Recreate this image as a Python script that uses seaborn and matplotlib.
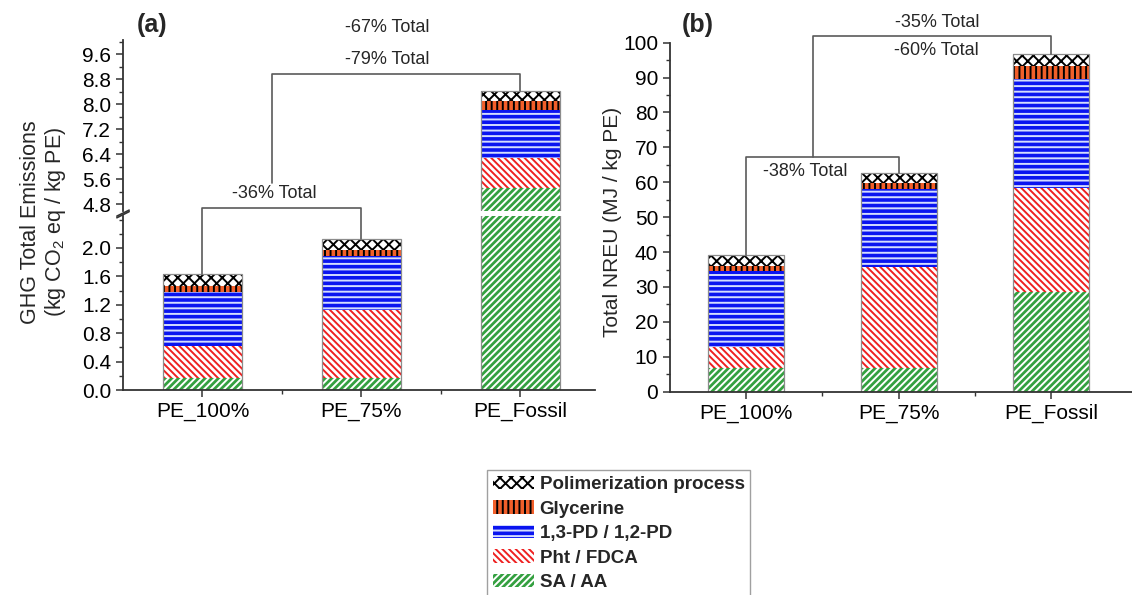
import numpy as np
import matplotlib.pyplot as plt
import matplotlib.patches as mpatches
from matplotlib.ticker import MultipleLocator, FormatStrFormatter
import seaborn as sns

sns.set_style("ticks")
plt.rcParams["font.family"] = ["Liberation Sans", "DejaVu Sans"]
plt.rcParams["mathtext.fontset"] = "custom"
plt.rcParams["mathtext.rm"] = "Liberation Sans"
plt.rcParams["hatch.linewidth"] = 1.4

scenarios = ["PE_100%", "PE_75%", "PE_Fossil"]
layer_names = ["SA / AA", "Pht / FDCA", "1,3-PD / 1,2-PD", "Glycerine", "Polimerization process"]

# (a) GHG emissions per layer, kg CO2 eq / kg PE
ghg_sa = [0.17, 0.17, 5.33]
ghg_pht = [0.45, 0.95, 0.96]
ghg_pd = [0.755, 0.76, 1.52]
ghg_gly = [0.095, 0.09, 0.29]
ghg_pol = [0.17, 0.15, 0.31]

# (b) non-renewable energy use per layer, MJ / kg PE
nreu_sa = [6.7, 6.7, 28.7]
nreu_pht = [6.0, 29.1, 29.8]
nreu_pd = [22.0, 22.4, 31.1]
nreu_gly = [1.3, 1.5, 3.8]
nreu_pol = [3.2, 2.9, 3.4]

# face colour, hatch colour, hatch
styles = [
    ("#34a040", "white", "/////"),
    ("white", "#ee2020", "\\\\\\\\\\"),
    ("#0a14f0", "#d4dcff", "---"),
    ("#f25f2a", "black", "|||"),
    ("white", "black", "xxx"),
]

W, H = 1132, 595
fig = plt.figure(figsize=(W / 100, H / 100), dpi=100)


def frame(left, top, right, bottom):
    return [left / W, 1 - bottom / H, (right - left) / W, (bottom - top) / H]


ax_up = fig.add_axes(frame(123, 40, 595, 211))
ax_lo = fig.add_axes(frame(123, 216, 595, 390))
ax_b = fig.add_axes(frame(670, 42.7, 1132, 391.7))


def draw_stack(ax, layers):
    tops = np.cumsum(np.array(layers), axis=0)
    # draw tallest first so the lower segments sit on top of it
    for i in reversed(range(len(layers))):
        fc, hc, hatch = styles[i]
        sns.barplot(x=scenarios, y=tops[i], ax=ax, width=0.5, saturation=1, color=fc)
        for bar in ax.containers[-1]:
            bar.set_facecolor(fc)
            bar.set_edgecolor(hc)
            bar.set_hatch(hatch)
            bar.set_linewidth(0)
    sns.barplot(x=scenarios, y=tops[-1], ax=ax, width=0.5, fill=False, color="#8c8c8c", linewidth=0.9)
    return tops[-1]


def style_axis(ax):
    ax.spines[["top", "right"]].set_visible(False)
    for s in ["left", "bottom"]:
        ax.spines[s].set_linewidth(1.3)
        ax.spines[s].set_color("#333333")
    ax.tick_params(which="major", direction="out", length=5, width=1.1, labelsize=15, colors="#333333")
    ax.tick_params(which="minor", direction="out", length=3, width=1.0, colors="#333333")
    ax.tick_params(labelcolor="black")
    ax.set_xlabel("")
    ax.set_ylabel("")


def bracket(ax, x0, y0, ytop, x1, y1):
    ax.plot([x0, x0, x1, x1], [y0, ytop, ytop, y1], color="#5a5a5a", lw=1.2, clip_on=False)


ghg = [ghg_sa, ghg_pht, ghg_pd, ghg_gly, ghg_pol]
nreu = [nreu_sa, nreu_pht, nreu_pd, nreu_gly, nreu_pol]

tot_up = draw_stack(ax_up, ghg)
tot_a = draw_stack(ax_lo, ghg)
tot_b = draw_stack(ax_b, nreu)

# panel (a): broken axis
for ax in (ax_up, ax_lo):
    style_axis(ax)
    ax.set_xlim(-0.5, 2.47)
    ax.yaxis.set_major_formatter(FormatStrFormatter("%.1f"))

ax_up.set_ylim(4.59, 10.05)
ax_up.set_yticks(np.arange(4.8, 9.7, 0.8))
ax_up.yaxis.set_minor_locator(MultipleLocator(0.4))
ax_up.spines["bottom"].set_visible(False)
ax_up.tick_params(axis="x", which="both", bottom=False, labelbottom=False)

ax_lo.set_ylim(0, 2.45)
ax_lo.set_yticks(np.arange(0, 2.01, 0.4))
ax_lo.yaxis.set_minor_locator(MultipleLocator(0.2))
ax_lo.set_xticks([0.5, 1.5], minor=True)

kw = dict(color="#333333", lw=1.2, clip_on=False)
ax_up.plot([-0.013, 0.013], [-0.03, 0.005], transform=ax_up.transAxes, **kw)
ax_lo.plot([-0.013, 0.013], [0.99, 1.025], transform=ax_lo.transAxes, **kw)

bracket(ax_lo, 0, tot_a[0], 2.56, 1, tot_a[1])
ax_lo.text(0.45, 2.76, "-36% Total", ha="center", va="center", fontsize=13, clip_on=False)
bracket(ax_up, 0.44, 5.48, 8.96, 2, tot_up[2])
ax_up.text(1.16, 9.44, "-79% Total", ha="center", va="center", fontsize=13)
ax_up.text(1.16, 10.46, "-67% Total", ha="center", va="center", fontsize=13, clip_on=False)

# panel (b)
style_axis(ax_b)
ax_b.set_xlim(-0.5, 2.53)
ax_b.set_ylim(0, 100)
ax_b.yaxis.set_major_locator(MultipleLocator(10))
ax_b.yaxis.set_minor_locator(MultipleLocator(5))
ax_b.set_xticks([0.5, 1.5], minor=True)

bracket(ax_b, 0, tot_b[0], 67.2, 1, tot_b[1])
ax_b.text(0.39, 63.2, "-38% Total", ha="center", va="center", fontsize=13)
bracket(ax_b, 0.44, 67.2, 101.9, 2, tot_b[2])
ax_b.text(1.25, 97.9, "-60% Total", ha="center", va="center", fontsize=13)
ax_b.text(1.25, 105.9, "-35% Total", ha="center", va="center", fontsize=13, clip_on=False)

fig.text(44 / W, 1 - 222 / H, "GHG Total Emissions\n(kg CO$_\\mathregular{2}$ eq / kg PE)",
         rotation=90, ha="center", va="center", fontsize=15.5, multialignment="center", linespacing=1.15)
fig.text(613 / W, 1 - 222 / H, "Total NREU (MJ / kg PE)", rotation=90,
         ha="center", va="center", fontsize=15)
fig.text(152 / W, 1 - 25 / H, "(a)", fontsize=18, fontweight="bold", ha="center", va="center")
fig.text(698 / W, 1 - 25 / H, "(b)", fontsize=18, fontweight="bold", ha="center", va="center")

handles = [mpatches.Patch(facecolor=styles[i][0], edgecolor=styles[i][1], hatch=styles[i][2],
                          linewidth=0, label=layer_names[i]) for i in reversed(range(len(layer_names)))]
leg = fig.legend(handles=handles, loc="upper left", bbox_to_anchor=(487 / W, 1 - 470 / H),
                 prop={"weight": "bold", "size": 13.5}, frameon=True, fancybox=False,
                 edgecolor="#888888", handlelength=2.2, handleheight=0.75, handletextpad=0.3,
                 labelspacing=0.38, borderpad=0.3, borderaxespad=0)
leg.get_frame().set_linewidth(1.0)

fig.savefig("out.png", dpi=100)
